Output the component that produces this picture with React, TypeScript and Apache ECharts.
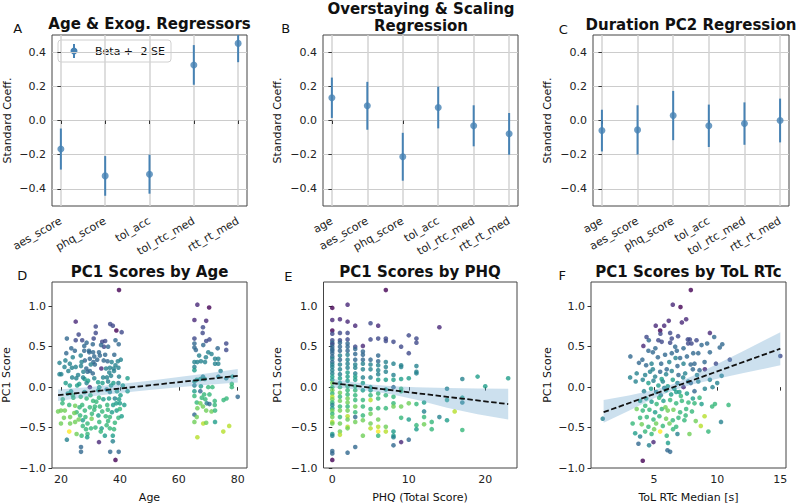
import React, { useEffect, useRef } from "react";
import * as echarts from "echarts";

const FONT = "DejaVu Sans";
const BLUE = "#4682b4";
const BAND = "rgba(110,165,205,0.35)";
const VIRIDIS = ["#440154", "#482878", "#3e4989", "#31688e", "#26828e", "#1f9e89", "#35b779", "#6ece58", "#b5de2b", "#fde725"];

// Regression coefficients (beta) and standard errors
const varsA = ["aes_score", "phq_score", "tol_acc", "tol_rtc_med", "rtt_rt_med"];
const betaA = [-0.167, -0.324, -0.314, 0.325, 0.451];
const seA = [0.060, 0.058, 0.057, 0.058, 0.055];

const varsBC = ["age", "aes_score", "phq_score", "tol_acc", "tol_rtc_med", "rtt_rt_med"];
const betaB = [0.133, 0.086, -0.212, 0.076, -0.031, -0.078];
const seB = [0.059, 0.070, 0.070, 0.061, 0.060, 0.061];
const betaC = [-0.059, -0.055, 0.029, -0.031, -0.018, 0.0];
const seC = [0.061, 0.072, 0.072, 0.062, 0.062, 0.064];

// Tick values
const coefTicks = [-0.4, -0.2, 0, 0.2, 0.4];
const scoreTicks = [-1, -0.5, 0, 0.5, 1];
const ageTicks = [20, 40, 60, 80];
const phqTicks = [0, 10, 20];
const rtcTicks = [5, 10, 15];

// Participants: [x, PC1 score, colour level 0-9]
const ageScores = [
  [39.7,1.2,0],[25,0.81,1],[31.8,0.75,2],[36.7,0.78,2],[37.6,0.76,2],[38.8,0.7,0],[40.6,0.68,2],[26,0.65,2],[22,0.6,3],[25,0.58,2],
  [31.8,0.67,2],[28.7,0.55,3],[30.8,0.53,3],[34,0.56,2],[35,0.57,2],[34.6,0.5,2],[38.5,0.58,3],[39.6,0.53,3],[27.9,0.51,3],[27.9,0.45,3],
  [29.6,0.43,3],[30.9,0.43,3],[32.9,0.43,3],[24,0.37,4],[21.5,0.33,4],[26.7,0.39,4],[29.8,0.35,3],[31.3,0.38,3],[33.2,0.39,3],[28.1,0.33,3],
  [31,0.31,3],[35.8,0.32,3],[37.2,0.31,4],[38.5,0.27,4],[40.3,0.34,4],[23,0.29,4],[21.2,0.25,4],[23.7,0.24,4],[26.8,0.26,4],[28.6,0.23,3],
  [29.8,0.2,3],[33.7,0.23,1],[35.3,0.23,4],[36.6,0.24,4],[37.9,0.23,4],[39.5,0.24,4],[20.1,0.16,4],[23.8,0.12,4],[25.2,0.11,4],[27.6,0.19,4],
  [29,0.19,3],[30.8,0.17,3],[28,0.1,5],[31.3,0.11,4],[34.3,0.12,4],[35.6,0.12,4],[37,0.14,4],[39.7,0.13,4],[42.6,0.11,5],[21.6,0.05,5],
  [26.2,0.04,5],[28.7,0.05,4],[29.8,0.0,1],[32.6,0.06,5],[36,0.07,4],[37.8,0.05,5],[39.5,0.05,4],[42.6,-0.05,5],[23.4,-0.05,5],[28,-0.06,5],
  [32.7,-0.04,5],[36.6,-0.06,4],[20.6,-0.15,6],[24.2,-0.13,6],[26.7,-0.12,6],[28.7,-0.14,6],[32.9,-0.13,6],[34.4,-0.15,5],[36.3,-0.14,5],[38.3,-0.14,4],
  [39.7,-0.15,5],[22.8,-0.22,6],[24.8,-0.23,7],[27.2,-0.22,6],[29.8,-0.25,6],[31.5,-0.24,6],[33.2,-0.24,6],[35.7,-0.22,6],[37.7,-0.22,5],[40,-0.2,5],
  [20,-0.29,7],[21.3,-0.29,7],[25.3,-0.31,6],[28.1,-0.29,6],[31.3,-0.28,6],[35.9,-0.28,6],[38.9,-0.29,5],[23.1,-0.37,7],[26.5,-0.35,6],[27.4,-0.41,5],
  [30.4,-0.39,7],[32.7,-0.35,5],[36.6,-0.37,6],[39.5,-0.38,6],[40.6,-0.36,5],[20,-0.45,7],[23.1,-0.45,7],[24.8,-0.43,7],[27.4,-0.48,6],[28.5,-0.52,6],
  [30.2,-0.51,6],[31.7,-0.5,6],[33.8,-0.51,5],[36.6,-0.51,6],[38.3,-0.44,6],[22.8,-0.55,9],[25.3,-0.58,7],[27,-0.6,6],[29,-0.58,6],[34.9,-0.6,5],
  [37.6,-0.6,5],[22,-0.65,4],[32.9,-0.68,1],[37.6,-0.67,4],[26.8,-0.74,3],[26.8,-0.8,3],[36.7,-0.8,3],[39.6,-0.8,3],[38.5,-0.9,0],
  [19.5,0.3,4],[22.5,0.2,4],[25.5,0.02,5],[27,0.31,4],[30,-0.1,6],[31.5,0.28,3],[33,0.0,5],[34,-0.3,6],[35,0.4,3],[36,-0.42,6],
  [37,0.02,5],[38,0.2,4],[39,-0.05,5],[40,-0.27,6],[41,0.02,5],[24,-0.1,6],[26,-0.4,7],[29,-0.45,6],[32,-0.18,6],[34.5,0.33,3],
  [21,-0.38,7],[27.5,0.12,4],[30.5,-0.33,6],[33.5,-0.55,6],[36,0.5,3],[38,-0.52,6],[23,0.02,5],[29.5,0.45,3],[35.5,-0.03,4],[25,0.25,4],
  [19,-0.3,7],[19.5,0.16,4],[20.5,-0.2,6],[21.8,0.42,3],[22.3,-0.08,5],[23.5,0.48,3],[24.5,-0.32,7],[25.8,0.15,4],[26.3,-0.25,6],[27.2,0.58,2],
  [28.3,-0.37,6],[29.2,0.08,5],[30.1,0.28,4],[30.9,-0.17,6],[32.3,0.34,3],[33,-0.43,6],[34.1,0.05,5],[35.2,-0.36,6],[36.4,0.18,4],[37.3,-0.31,5],
  [38.1,0.4,3],[38.8,-0.2,5],[39.3,0.32,4],[40.2,-0.1,5],[41.5,-0.22,5],[24.7,0.45,3],[31.1,0.6,2],[33.6,0.52,3],[28.9,-0.62,5],[35.5,-0.47,6],
  [66.3,1.02,1],[70.3,0.985,0],[65.3,0.83,1],[69.3,0.82,1],[68.2,0.74,2],[68.1,0.67,2],[65.3,0.6,2],[69.3,0.57,2],[70.4,0.59,2],[65.3,0.54,3],
  [65.3,0.49,3],[68.3,0.52,3],[73.2,0.48,3],[76.1,0.54,2],[76.1,0.46,2],[65.8,0.46,3],[70,0.43,4],[71.1,0.41,4],[66.9,0.39,4],[69.2,0.37,4],
  [72.3,0.35,4],[73.4,0.35,4],[66.3,0.31,4],[67.5,0.32,4],[68.9,0.31,4],[65.3,0.31,4],[65.3,0.25,4],[65.3,0.21,5],[72.3,0.29,4],[73.4,0.29,4],
  [74.2,0.2,4],[68.2,0.13,4],[67.3,0.1,5],[68.8,0.1,5],[76.1,0.11,4],[78.2,0.13,5],[73.4,0.13,4],[65.3,0.07,5],[66.1,0.09,5],[65.3,0.02,4],
  [78,0.04,6],[78,0,6],[67.5,0.01,5],[70,0,6],[71.4,0,6],[80,-0.12,3],[65.3,-0.05,5],[67.3,-0.05,3],[68.6,-0.09,6],[70.4,-0.09,6],
  [65.3,-0.11,6],[67.8,-0.13,6],[69,-0.15,6],[69.5,-0.2,4],[70.4,-0.21,3],[72.2,-0.17,6],[72.2,-0.22,6],[75.2,-0.16,6],[76.2,-0.14,6],[66.1,-0.19,6],
  [67.3,-0.2,7],[68.2,-0.24,7],[66.3,-0.26,7],[69.3,-0.29,7],[71.1,-0.3,7],[72.3,-0.29,6],[65.3,-0.34,3],[66.1,-0.37,7],[65.3,-0.43,7],[68.3,-0.45,8],
  [69.3,-0.44,7],[72.3,-0.43,5],[77.1,-0.48,8],[75.1,-0.55,8],[66.3,-0.62,8],
];

const phqScores = [
  [0,0.98,0],[0,0.83,1],[0,0.7,0],[0,0.66,2],[0,0.58,2],[0,0.55,3],[0,0.53,2],[0,0.5,3],[0,0.47,3],[0,0.45,3],
  [0,0.42,3],[0,0.38,3],[0,0.35,4],[0,0.31,3],[0,0.28,4],[0,0.25,4],[0,0.21,4],[0,0.17,4],[0,0.13,5],[0,0.09,5],
  [0,0.05,7],[0,0.0,6],[0,-0.04,7],[0,-0.08,6],[0,-0.12,8],[0,-0.15,7],[0,-0.19,6],[0,-0.22,4],[0,-0.26,5],[0,-0.29,7],
  [0,-0.33,6],[0,-0.37,7],[0,-0.43,8],[0,-0.45,7],[0,-0.58,5],[0,-0.6,4],[0,-0.79,3],[0,-0.82,3],[0,-0.9,0],
  [1,0.84,1],[1,0.67,2],[1,0.58,2],[1,0.55,3],[1,0.5,3],[1,0.45,3],[1,0.39,4],[1,0.34,3],[1,0.28,4],[1,0.22,4],
  [1,0.16,4],[1,0.11,5],[1,0.05,5],[1,0.0,6],[1,-0.07,7],[1,-0.12,6],[1,-0.17,7],[1,-0.24,6],[1,-0.29,7],[1,-0.37,6],
  [1,-0.45,7],[1,-0.55,7],[1,-0.59,8],
  [2,1.02,1],[2,0.81,1],[2,0.67,2],[2,0.59,2],[2,0.54,3],[2,0.5,3],[2,0.45,3],[2,0.4,4],[2,0.34,4],[2,0.29,4],
  [2,0.24,4],[2,0.18,5],[2,0.13,5],[2,0.08,5],[2,0.01,6],[2,-0.04,6],[2,-0.09,6],[2,-0.14,7],[2,-0.19,7],[2,-0.24,6],
  [2,-0.29,7],[2,-0.36,8],[2,-0.4,7],[2,-0.49,8],[2,-0.51,7],[2,-0.81,3],
  [3,0.76,1],[3,0.5,2],[3,0.47,3],[3,0.41,3],[3,0.34,3],[3,0.28,4],[3,0.24,4],[3,0.17,4],[3,0.13,5],[3,0.09,5],
  [3,0.01,6],[3,-0.04,6],[3,-0.1,6],[3,-0.16,6],[3,-0.24,7],[3,-0.31,6],[3,-0.37,3],[3,-0.43,7],[3,-0.74,3],
  [4,0.51,1],[4,0.44,3],[4,0.4,3],[4,0.34,3],[4,0.29,4],[4,0.22,4],[4,0.12,4],[4,0.05,5],[4,-0.04,5],[4,-0.16,6],
  [4,-0.24,6],[4,-0.35,6],[4,-0.41,7],[4,-0.6,7],
  [5,0.79,2],[5,0.59,2],[5,0.34,3],[5,0.28,4],[5,0.22,4],[5,0.12,4],[5,0.0,5],[5,-0.04,5],[5,-0.1,6],[5,-0.16,8],
  [5,-0.27,6],[5,-0.33,7],[5,-0.45,7],[5,-0.51,8],
  [6,0.76,1],[6,0.6,2],[6,0.39,3],[6,0.32,3],[6,0.27,4],[6,0.21,4],[6,0.16,4],[6,0.09,5],[6,-0.08,6],[6,-0.14,6],
  [6,-0.26,6],[6,-0.4,7],[6,-0.49,8],[6,-0.55,9],[6,-0.6,6],
  [7,1.2,0],[7,0.6,2],[7,0.57,2],[7,0.31,4],[7,0.25,4],[7,0.19,4],[7,0.09,5],[7,-0.03,5],[7,-0.1,6],[7,-0.26,6],
  [7,-0.49,7],[7,-0.55,8],
  [8,0.56,2],[8,0.29,4],[8,0.15,4],[8,0.09,5],[8,0.0,3],[8,-0.12,6],[8,-0.2,6],[8,-0.24,7],[8,-0.55,5],[8,-0.6,5],
  [8,-0.62,4],[8,-0.72,3],
  [9,0.5,2],[9,0.27,4],[9,0.25,4],[9,0.1,5],[9,-0.02,6],[9,-0.05,6],[9,-0.24,7],[9,-0.38,6],[9,-0.68,1],
  [10,0.64,2],[10,0.42,2],[10,0.11,5],[10,-0.2,7],[10,-0.4,5],[10,-0.65,3],
  [11,0.6,2],[11,0.55,2],[11,0.26,4],[11,0.19,4],[11,0.17,4],[11,-0.21,6],[11,-0.47,6],[11,-0.52,5],
  [12,-0.19,5],[12,-0.3,4],[12,-0.37,6],[12,-0.46,7],[13,-0.43,6],[13,-0.52,6],[14,0.74,1],[14,-0.37,4],[15,-0.02,4],[15,-0.16,5],
  [15,-0.41,5],[16,-0.3,8],[17,0.1,4],[17,-0.13,5],[17,-0.19,4],[17,-0.53,6],[19,0.13,5],[20,0.01,5],[23,0.11,5],
];

const rtcScores = [
  [0.93,-0.39,4],[4.1,-0.91,0],[3.12,0.38,3],[3.1,0.12,4],[3.54,0.07,4],[4.15,0.51,1],[4.58,0.58,3],[5.13,0.76,1],[5.48,0.7,0],[6.48,1.02,1],
  [7.09,0.99,0],[6.16,0.82,1],[7.2,0.8,1],[7.54,0.84,1],[5.8,0.76,1],[6.27,0.67,2],[5.5,0.66,2],[5.34,0.58,2],[5.6,0.56,2],[6.27,0.55,2],
  [6.67,0.5,3],[6.8,0.45,3],[7.33,0.48,3],[7.67,0.59,2],[7.7,0.54,2],[4.55,0.45,3],[4.9,0.43,3],[5.3,0.37,3],[5.87,0.4,3],[6.4,0.42,3],
  [7.06,0.36,3],[7.6,0.38,3],[4.07,0.34,3],[4.37,0.27,3],[4.8,0.29,4],[5.56,0.29,3],[6.2,0.31,4],[6.85,0.26,3],[7.33,0.29,4],[3.62,0.17,4],
  [4.29,0.15,4],[4.68,0.19,4],[5.08,0.13,4],[5.48,0.19,3],[5.95,0.16,4],[6.4,0.2,4],[6.93,0.15,3],[7.46,0.17,4],[4.1,0.09,4],[4.55,0.05,5],
  [4.95,0.08,4],[5.34,0.02,5],[5.69,0.07,4],[6.08,0.01,5],[6.48,0.09,5],[6.85,0.05,4],[7.33,0.0,1],[7.7,0.07,4],[4.76,-0.02,5],[5.16,-0.06,4],
  [5.53,-0.1,4],[5.95,-0.04,5],[6.35,-0.09,5],[6.75,-0.06,5],[7.12,-0.11,6],[7.6,-0.08,5],[3.89,-0.17,5],[4.37,-0.14,5],[4.8,-0.18,5],[5.2,-0.21,6],
  [5.74,-0.17,5],[6.27,-0.16,6],[6.75,-0.2,6],[7.2,-0.17,6],[7.72,-0.19,6],[3.62,-0.27,7],[4.1,-0.29,6],[4.63,-0.28,6],[5.08,-0.31,5],[5.61,-0.27,6],
  [6.08,-0.29,7],[6.53,-0.28,7],[7.06,-0.31,6],[7.54,-0.27,6],[3.89,-0.38,6],[4.42,-0.37,6],[4.95,-0.4,6],[5.42,-0.36,6],[5.95,-0.39,7],[6.48,-0.41,6],
  [6.93,-0.38,6],[7.4,-0.41,6],[4.02,-0.46,7],[4.55,-0.49,6],[5.16,-0.45,7],[5.69,-0.48,6],[6.22,-0.45,7],[6.75,-0.49,6],[3.5,-0.57,5],[3.89,-0.61,4],
  [4.29,-0.55,6],[4.8,-0.58,6],[5.48,-0.55,9],[6.0,-0.6,6],[6.85,-0.58,4],[3.76,-0.7,3],[4.95,-0.68,1],[6.06,-0.78,3],[6.27,-0.8,3],
  [7.91,1.2,0],[9.42,0.67,1],[9.76,0.62,3],[9.2,0.54,3],[10.4,0.53,3],[10.2,0.49,3],[11.0,0.34,2],[15.0,0.385,2],[7.83,0.59,2],[8.36,0.58,2],
  [8.76,0.52,3],[7.96,0.54,2],[9.42,0.43,3],[8.5,0.42,3],[9.0,0.31,3],[8.2,0.29,3],[9.02,0.22,1],[8.6,0.21,3],[8.07,0.22,3],[9.9,0.29,2],
  [10.35,0.14,4],[9.42,0.09,4],[8.5,0.07,4],[7.91,0.05,3],[9.63,0.0,4],[9.02,-0.02,4],[8.2,-0.05,3],[8.6,-0.13,6],[8.07,-0.14,5],[8.2,-0.2,6],
  [8.76,-0.21,5],[9.82,-0.21,6],[9.6,-0.24,6],[10.9,-0.22,6],[9.0,-0.36,8],[8.7,-0.48,8],[9.3,-0.55,6],[10.3,-0.43,4],
  [4.4,0.62,2],[6.9,0.63,2],[5.1,0.48,3],[6.0,0.22,3],[7.9,0.28,3],[5.8,-0.01,4],[6.6,-0.02,5],[8.4,0.15,4],[4.2,-0.05,4],[7.5,-0.35,6],
  [8.0,-0.3,6],[5.0,-0.52,7],[6.5,-0.52,6],[3.3,-0.45,6],[4.6,-0.72,4],[5.9,-0.25,7],[7.8,-0.58,7],[6.4,0.6,2],[8.1,0.42,3],[5.6,0.1,5],
  [7.0,-0.06,5],[4.9,0.22,4],[3.8,0.3,3],[6.1,-0.69,5],[7.3,0.12,4],[5.4,-0.13,6],[8.3,-0.42,7],[10.0,0.05,4],[6.7,0.36,4],[4.3,-0.23,6],
];

// Linear fits and 95% confidence bands
const ageFitX = [19, 80];
const ageFitY = [-0.1, 0.14];
const ageBandX = [19, 30, 40, 50, 60, 70, 80];
const ageBandLow = [-0.17, -0.115, -0.072, -0.036, -0.003, 0.028, 0.057];
const ageBandHigh = [-0.03, 0.001, 0.038, 0.08, 0.125, 0.172, 0.223];

const phqFitX = [0, 23];
const phqFitY = [0.05, -0.21];
const phqBandX = [0, 2, 5, 8, 11, 15, 19, 23];
const phqBandLow = [-0.005, -0.018, -0.047, -0.095, -0.155, -0.255, -0.335, -0.4];
const phqBandHigh = [0.105, 0.072, 0.033, 0.01, 0.0, -0.012, -0.017, -0.02];

const rtcFitX = [1, 15];
const rtcFitY = [-0.31, 0.475];
const rtcBandX = [1, 3, 5, 6.5, 8, 10, 12, 15];
const rtcBandLow = [-0.44, -0.293, -0.136, -0.042, 0.033, 0.105, 0.172, 0.27];
const rtcBandHigh = [-0.16, -0.103, -0.036, 0.038, 0.133, 0.285, 0.442, 0.68];

const fmt = (v: number, d: number) => v.toFixed(d).replace("-", "\u2212");

const tickLabel = { fontSize: 11, color: "#222", fontFamily: FONT };
const tickStyle = { show: true, length: 3.5, inside: false, lineStyle: { color: "#333", width: 1 } };

const grids = [
  { left: 52, top: 35, width: 195, height: 171 },
  { left: 323, top: 35, width: 195, height: 171 },
  { left: 593, top: 35, width: 196, height: 171 },
  { left: 52, top: 282, width: 195, height: 186 },
  { left: 323.5, top: 282, width: 193.5, height: 186 },
  { left: 591, top: 282, width: 195, height: 186 },
].map((g) => ({ ...g, show: true, borderColor: "#444", borderWidth: 1, backgroundColor: "transparent", containLabel: false, outerBoundsMode: "none" }));

function coefAxes(idx: number, vars: string[]) {
  const pad = vars.length === 5 ? 0.2 : 0.25;
  const cats = vars.map((_, i) => i);
  const xAxis = {
    type: "value", gridIndex: idx, min: -pad, max: vars.length - 1 + pad,
    axisLine: { show: false },
    axisTick: { ...tickStyle, customValues: cats },
    axisLabel: { ...tickLabel, customValues: cats, rotate: 30, margin: 14, formatter: (v: number) => vars[Math.round(v)] },
    splitLine: { show: true, lineStyle: { color: "#d3d3d3", width: 1.5 } },
  };
  const yAxis = {
    type: "value", gridIndex: idx, min: -0.5, max: 0.5,
    axisLine: { show: false },
    axisTick: { ...tickStyle, customValues: coefTicks },
    axisLabel: { ...tickLabel, customValues: coefTicks, margin: 6, formatter: (v: number) => fmt(v, 1) },
    splitLine: { show: true, lineStyle: { color: "#cccccc", width: 1 } },
  };
  return { xAxis, yAxis };
}

function coefSeries(idx: number, beta: number[], se: number[]) {
  return [
    {
      type: "custom", xAxisIndex: idx, yAxisIndex: idx, clip: true, z: 2, silent: true,
      data: beta.map((b, i) => [i, b - 2 * se[i], b + 2 * se[i]]),
      encode: { x: 0, y: [1, 2] },
      renderItem: (_p: any, api: any) => {
        const lo = api.coord([api.value(0), api.value(1)]);
        const hi = api.coord([api.value(0), api.value(2)]);
        return { type: "line", shape: { x1: lo[0], y1: lo[1], x2: hi[0], y2: hi[1] }, style: { stroke: BLUE, lineWidth: 2 } };
      },
    },
    {
      type: "scatter", xAxisIndex: idx, yAxisIndex: idx, z: 3, symbolSize: 7,
      itemStyle: { color: BLUE },
      data: beta.map((b, i) => [i, b]),
    },
  ];
}

function scoreAxes(idx: number, min: number, max: number, ticks: number[]) {
  const xAxis = {
    type: "value", gridIndex: idx, min, max,
    axisLine: { show: false },
    axisTick: { ...tickStyle, customValues: ticks },
    axisLabel: { ...tickLabel, customValues: ticks, margin: 6, formatter: (v: number) => String(v) },
    splitLine: { show: false },
  };
  const yAxis = {
    type: "value", gridIndex: idx, min: -1.0, max: 1.3,
    axisLine: { show: false },
    axisTick: { ...tickStyle, customValues: scoreTicks },
    axisLabel: { ...tickLabel, customValues: scoreTicks, margin: 6, formatter: (v: number) => fmt(v, 1) },
    splitLine: { show: false },
  };
  return { xAxis, yAxis };
}

function scoreSeries(idx: number, pts: number[][], fitX: number[], fitY: number[], bx: number[], lo: number[], hi: number[]) {
  return [
    {
      type: "scatter", xAxisIndex: idx, yAxisIndex: idx, z: 2, symbolSize: 4.6,
      itemStyle: { color: (p: any) => VIRIDIS[p.value[2]] },
      data: pts,
    },
    {
      type: "custom", xAxisIndex: idx, yAxisIndex: idx, z: 3, silent: true,
      data: bx.map((x, i) => [x, lo[i], hi[i]]),
      encode: { x: 0, y: [1, 2] },
      renderItem: (p: any, api: any) => {
        if (p.dataIndex !== 0) return null;
        const upper = bx.map((x, i) => api.coord([x, hi[i]]));
        const lower = bx.map((x, i) => api.coord([x, lo[i]])).reverse();
        return { type: "polygon", shape: { points: upper.concat(lower) }, style: { fill: BAND } };
      },
    },
    {
      type: "line", xAxisIndex: idx, yAxisIndex: idx, z: 4, symbol: "none", silent: true,
      lineStyle: { color: "#111", width: 1.8, type: [5.5, 2.5] },
      data: fitX.map((x, i) => [x, fitY[i]]),
    },
  ];
}

function label(text: string, x: number, y: number, size: number, bold = false, rotate = false) {
  return {
    type: "text", x, y, rotation: rotate ? Math.PI / 2 : 0, z: 50, silent: true,
    style: { text, fontSize: size, fontWeight: bold ? "bold" : "normal", fontFamily: FONT, fill: "#111", align: "center", verticalAlign: "middle" },
  };
}

export default function App() {
  const ref = useRef<HTMLDivElement>(null);

  useEffect(() => {
    if (!ref.current) return;
    const chart = echarts.init(ref.current, null, { renderer: "svg" });

    const a = coefAxes(0, varsA);
    const b = coefAxes(1, varsBC);
    const c = coefAxes(2, varsBC);
    const d = scoreAxes(3, 16.95, 83.15, ageTicks);
    const e = scoreAxes(4, -1.15, 24.15, phqTicks);
    const f = scoreAxes(5, 0, 15.45, rtcTicks);

    chart.setOption({
      animation: false,
      backgroundColor: "#ffffff",
      textStyle: { fontFamily: FONT },
      grid: grids,
      xAxis: [a.xAxis, b.xAxis, c.xAxis, d.xAxis, e.xAxis, f.xAxis],
      yAxis: [a.yAxis, b.yAxis, c.yAxis, d.yAxis, e.yAxis, f.yAxis],
      series: [
        ...coefSeries(0, betaA, seA),
        ...coefSeries(1, betaB, seB),
        ...coefSeries(2, betaC, seC),
        ...scoreSeries(3, ageScores, ageFitX, ageFitY, ageBandX, ageBandLow, ageBandHigh),
        ...scoreSeries(4, phqScores, phqFitX, phqFitY, phqBandX, phqBandLow, phqBandHigh),
        ...scoreSeries(5, rtcScores, rtcFitX, rtcFitY, rtcBandX, rtcBandLow, rtcBandHigh),
      ],
      graphic: [
        label("Age & Exog. Regressors", 149.5, 24, 15, true),
        label("Overstaying & Scaling", 421, 9, 15, true),
        label("Regression", 421, 26, 15, true),
        label("Duration PC2 Regression", 691, 25, 15, true),
        label("PC1 Scores by Age", 149.5, 272, 15, true),
        label("PC1 Scores by PHQ", 420, 272, 15, true),
        label("PC1 Scores by ToL RTc", 688.5, 272, 15, true),
        label("A", 17.7, 28, 13),
        label("B", 285.7, 28.3, 13),
        label("C", 563.3, 29.3, 13),
        label("D", 22.3, 275, 13),
        label("E", 288.3, 276, 13),
        label("F", 562.3, 275, 13),
        label("Standard Coeff.", 7, 120.5, 11, false, true),
        label("Standard Coeff.", 277.5, 120.5, 11, false, true),
        label("Standard Coeff.", 547.5, 120.5, 11, false, true),
        label("PC1 Score", 6.5, 375, 11, false, true),
        label("PC1 Score", 277.5, 375, 11, false, true),
        label("PC1 Score", 547, 375, 11, false, true),
        label("Age", 149.5, 497, 11),
        label("PHQ (Total Score)", 420, 497, 11),
        label("ToL RTc Median [s]", 688.5, 497, 11),
        {
          type: "group", z: 60, silent: true,
          children: [
            { type: "rect", shape: { x: 58, y: 40, width: 113, height: 22, r: 3 }, style: { fill: "rgba(255,255,255,0.85)", stroke: "#d0d0d0", lineWidth: 1 } },
            { type: "line", shape: { x1: 74, y1: 44, x2: 74, y2: 58 }, style: { stroke: BLUE, lineWidth: 2 } },
            { type: "circle", shape: { cx: 74, cy: 51, r: 3.5 }, style: { fill: BLUE } },
            { type: "text", x: 95, y: 51, style: { text: "Beta +- 2 SE", fontSize: 11, fontFamily: FONT, fill: "#111", align: "left", verticalAlign: "middle" } },
          ],
        },
      ],
    });

    return () => chart.dispose();
  }, []);

  return <div ref={ref} style={{ position: "fixed", left: 0, top: 0, width: 800, height: 504, background: "#fff" }} />;
}
